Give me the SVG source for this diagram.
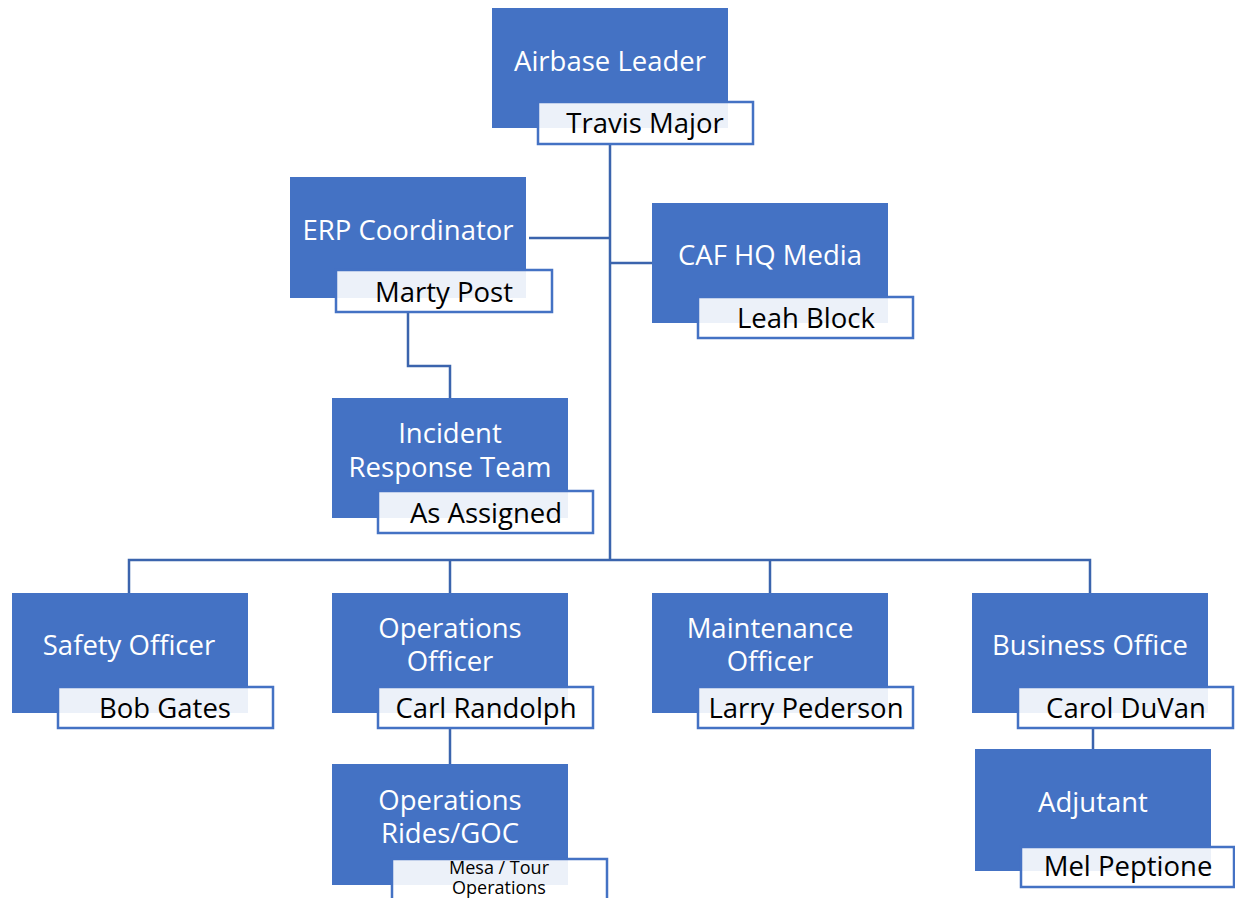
<svg xmlns="http://www.w3.org/2000/svg" width="1235" height="898" viewBox="0 0 1235 898">
<style>
.box{fill:#4472C4}
.nm{fill:#ffffff;fill-opacity:0.9;stroke:#4472C4;stroke-width:2.5}
.t{font-family:"Open Sans","Noto Sans",sans-serif;font-size:27.5px;fill:#ffffff;text-anchor:middle}
.n{font-family:"Open Sans","Noto Sans",sans-serif;font-size:27.5px;fill:#000000;text-anchor:middle}
.s{font-family:"Open Sans","Noto Sans",sans-serif;font-size:18px;fill:#000000;text-anchor:middle}
.c{fill:none;stroke:#3B64AD;stroke-width:2.5}
</style>
<rect width="1235" height="898" fill="#ffffff"/>
<g id="connectors">
<path class="c" d="M610 144 V560"/>
<path class="c" d="M529 238 H610"/>
<path class="c" d="M610 263 H652"/>
<path class="c" d="M408 312 V366 H450 V398"/>
<path class="c" d="M129 593 V560 H1090 V593"/>
<path class="c" d="M450 560 V593"/>
<path class="c" d="M770 560 V593"/>
<path class="c" d="M450 728 V764"/>
<path class="c" d="M1093 728 V749"/>
</g>
<g id="airbase-leader">
<rect class="box" x="492" y="8" width="236" height="120"/>
<text class="t" x="610" y="71">Airbase Leader</text>
<rect class="nm" x="538" y="102" width="215" height="42"/>
<text class="n" x="645" y="133">Travis Major</text>
</g>
<g id="erp-coordinator">
<rect class="box" x="290" y="177" width="236" height="121"/>
<text class="t" x="408" y="240">ERP Coordinator</text>
<rect class="nm" x="336" y="270" width="216" height="42"/>
<text class="n" x="444" y="302">Marty Post</text>
</g>
<g id="caf-hq-media">
<rect class="box" x="652" y="203" width="236" height="120"/>
<text class="t" x="770" y="265">CAF HQ Media</text>
<rect class="nm" x="698" y="297" width="215" height="41"/>
<text class="n" x="806" y="328">Leah Block</text>
</g>
<g id="incident-response-team">
<rect class="box" x="332" y="398" width="236" height="120"/>
<text class="t" x="450" y="443">Incident</text>
<text class="t" x="450" y="477">Response Team</text>
<rect class="nm" x="378" y="491" width="215" height="42"/>
<text class="n" x="486" y="523">As Assigned</text>
</g>
<g id="safety-officer">
<rect class="box" x="12" y="593" width="236" height="120"/>
<text class="t" x="129" y="655">Safety Officer</text>
<rect class="nm" x="58" y="687" width="215" height="41"/>
<text class="n" x="165" y="718">Bob Gates</text>
</g>
<g id="operations-officer">
<rect class="box" x="332" y="593" width="236" height="120"/>
<text class="t" x="450" y="638">Operations</text>
<text class="t" x="450" y="671">Officer</text>
<rect class="nm" x="378" y="687" width="215" height="41"/>
<text class="n" x="486" y="718">Carl Randolph</text>
</g>
<g id="maintenance-officer">
<rect class="box" x="652" y="593" width="236" height="120"/>
<text class="t" x="770" y="638">Maintenance</text>
<text class="t" x="770" y="671">Officer</text>
<rect class="nm" x="698" y="687" width="215" height="41"/>
<text class="n" x="806" y="718">Larry Pederson</text>
</g>
<g id="business-office">
<rect class="box" x="972" y="593" width="236" height="120"/>
<text class="t" x="1090" y="655">Business Office</text>
<rect class="nm" x="1018" y="687" width="215" height="41"/>
<text class="n" x="1126" y="718">Carol DuVan</text>
</g>
<g id="operations-rides-goc">
<rect class="box" x="332" y="764" width="236" height="121"/>
<text class="t" x="450" y="810">Operations</text>
<text class="t" x="450" y="843">Rides/GOC</text>
<rect class="nm" x="392" y="859" width="215" height="45"/>
<text class="s" x="499" y="874">Mesa / Tour</text>
<text class="s" x="499" y="894">Operations</text>
</g>
<g id="adjutant">
<rect class="box" x="975" y="749" width="236" height="122"/>
<text class="t" x="1093" y="812">Adjutant</text>
<rect class="nm" x="1021" y="847" width="213" height="40"/>
<text class="n" x="1128" y="876">Mel Peptione</text>
</g>
</svg>
